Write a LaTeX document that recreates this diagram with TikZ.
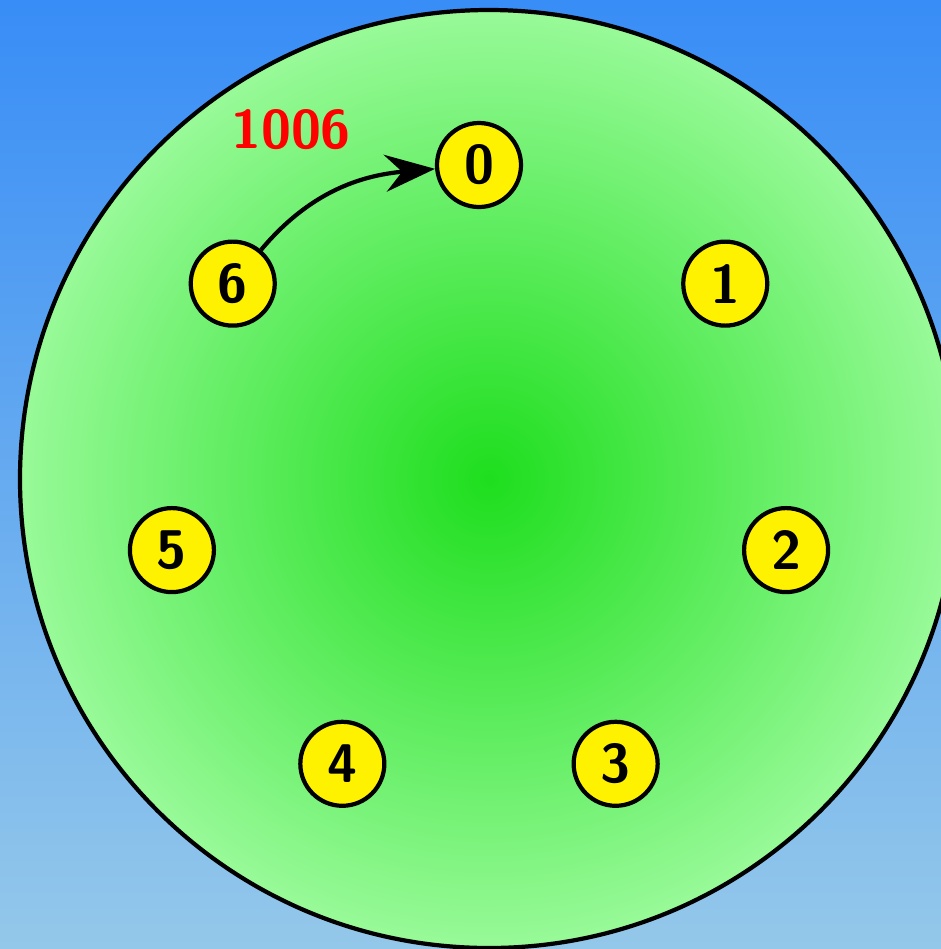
\documentclass[tikz,border=0pt]{standalone}
\usepackage{tikz}
\usetikzlibrary{arrows.meta, positioning}
\definecolor{skytop}{RGB}{56,141,246}
\definecolor{skybot}{RGB}{148,200,234}
\definecolor{discin}{RGB}{30,222,30}
\definecolor{discout}{RGB}{152,250,152}

\begin{document}
\begin{tikzpicture}[line width=2.4pt,
  v/.style={circle, draw, fill=yellow, minimum size=1.68cm, inner sep=0pt,
            font=\sffamily\bfseries\fontsize{31}{31}\selectfont},
  lbl/.style={text=red, font=\sffamily\bfseries\fontsize{31}{31}\selectfont},
  a/.style={-{Stealth[length=10mm, width=7.4mm, inset=3.4mm]}}]
\clip (0,0) rectangle (18.82,-18.98);
\fill[top color=skytop, bottom color=skybot] (0,0) rectangle (18.82,-18.98);
\draw[inner color=discin, outer color=discout] (9.78,-9.58) circle (9.38);
% seven stations round the ring
\foreach \i in {0,...,6}
  \node[v] (n\i) at ({9.58+6.3*cos(90-\i*360/7)}, {-9.6+6.3*sin(90-\i*360/7)}) {\i};
\node[lbl] (cnt) at (5.82,-2.6) {1006};
\draw[a] (n6) to[out=50, in=185] (n0);
\end{tikzpicture}
\end{document}
